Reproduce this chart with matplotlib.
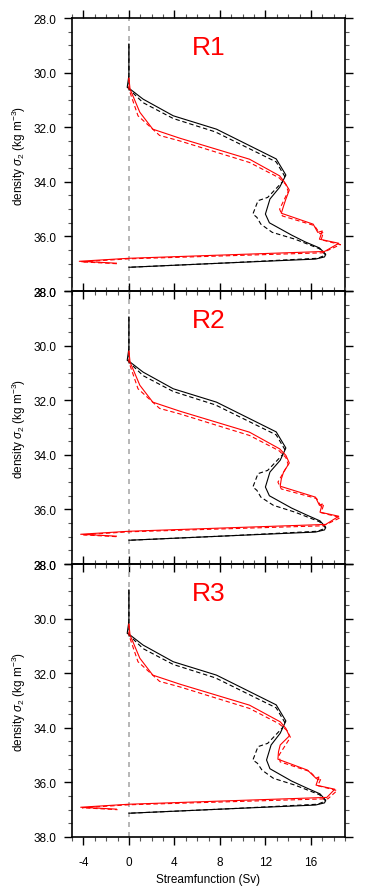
import matplotlib
matplotlib.use("Agg")
import matplotlib.pyplot as plt
from matplotlib.ticker import MultipleLocator, FormatStrFormatter

plt.rcParams['font.family'] = ['Liberation Sans', 'DejaVu Sans']
plt.rcParams['mathtext.fontset'] = 'custom'
plt.rcParams['mathtext.it'] = 'Liberation Sans:italic'
plt.rcParams['mathtext.rm'] = 'Liberation Sans'
plt.rcParams['axes.unicode_minus'] = False

titles = ["R1", "R2", "R3"]

# black solid (density, streamfunction)
blk_y = [28.95, 30.1, 30.54, 30.6, 30.97, 31.58, 32.07, 33.16, 33.75, 34.2, 34.63,
         35.18, 35.5, 35.95, 36.2, 36.42, 36.65, 36.75, 36.83, 36.97, 37.13]
blk_x = {
    "R1": [0.0, 0.0, -0.15, 0.1, 1.25, 3.9, 7.7, 12.95, 13.8, 13.25, 12.4,
           12.0, 12.35, 14.3, 15.5, 16.75, 17.3, 17.2, 16.4, 8.6, 0.0],
    "R2": [0.0, 0.0, -0.15, 0.1, 1.25, 3.9, 7.7, 12.95, 13.8, 13.3, 12.4,
           12.0, 12.35, 14.3, 15.6, 16.8, 17.3, 17.2, 16.4, 8.6, 0.0],
    "R3": [0.0, 0.0, -0.15, 0.1, 1.25, 3.9, 7.7, 12.95, 13.8, 13.3, 12.5,
           12.1, 12.4, 14.3, 15.6, 16.8, 17.3, 17.2, 16.4, 8.6, 0.0],
}

# black dashed
blkd_y = [28.95, 30.1, 30.6, 31.1, 31.68, 32.17, 33.27, 33.8, 34.0, 34.57, 34.69,
          35.18, 35.3, 35.55, 35.85, 36.1, 36.45, 36.68, 36.8, 36.97, 37.13]
blkd_x = {
    "R1": [0.0, 0.0, 0.0, 1.25, 3.9, 7.6, 12.95, 13.7, 13.5, 12.2, 11.35,
           10.9, 11.25, 11.6, 12.6, 14.6, 16.75, 17.3, 16.6, 8.6, 0.0],
    "R2": [0.0, 0.0, 0.0, 1.25, 3.9, 7.6, 12.95, 13.7, 13.5, 12.2, 11.35,
           10.9, 11.25, 11.6, 12.7, 14.6, 16.75, 17.3, 16.6, 8.6, 0.0],
    "R3": [0.0, 0.0, 0.0, 1.25, 3.9, 7.6, 12.95, 13.7, 13.5, 12.2, 11.35,
           10.9, 11.3, 11.7, 12.7, 14.6, 16.75, 17.3, 16.6, 8.6, 0.0],
}

# red solid
red_y = [30.2, 30.6, 31.45, 32.07, 32.4, 33.17, 33.78, 34.02, 34.3, 34.63, 34.88,
         35.15, 35.55, 35.85, 35.8, 36.1, 36.25, 36.55, 36.8, 36.91, 36.98]
red_x = {
    "R1": [0.0, 0.1, 0.96, 2.1, 4.47, 10.6, 13.25, 13.7, 14.1, 13.8, 13.6,
           13.4, 16.2, 16.6, 17.0, 16.75, 18.45, 17.2, 0.0, -4.36, -1.1],
    "R2": [0.0, 0.1, 0.96, 2.1, 4.47, 10.6, 13.25, 13.8, 14.1, 13.6, 13.4,
           13.3, 16.4, 16.75, 17.0, 16.8, 18.45, 17.3, 0.0, -4.24, -1.1],
    "R3": [0.0, 0.1, 0.96, 2.1, 4.47, 10.6, 13.3, 13.8, 14.1, 13.3, 13.15,
           13.1, 15.7, 16.45, 16.7, 16.45, 18.1, 17.4, 0.0, -4.24, -1.1],
}

# red dashed
redd_y = [30.2, 30.6, 31.58, 32.3, 32.5, 33.29, 33.85, 34.1, 34.35, 35.0, 35.25,
          35.6, 35.9, 35.85, 36.12, 36.3, 36.6, 36.82, 36.93, 37.0]
redd_x = {
    "R1": [0.0, 0.0, 0.8, 2.7, 4.47, 10.6, 13.2, 13.8, 14.0, 13.25, 13.5,
           16.3, 16.8, 17.1, 16.9, 18.6, 17.0, 0.0, -4.2, -1.0],
    "R2": [0.0, 0.0, 0.8, 2.7, 4.47, 10.6, 13.2, 13.8, 14.0, 13.1, 13.4,
           16.5, 16.9, 17.1, 16.9, 18.6, 17.1, 0.0, -4.1, -1.0],
    "R3": [0.0, 0.0, 0.8, 2.7, 4.47, 10.6, 13.2, 13.9, 14.2, 13.2, 13.3,
           15.9, 16.6, 16.9, 16.6, 18.3, 17.5, 0.0, -4.1, -1.0],
}

fig = plt.figure(figsize=(3.65, 8.95), dpi=100)

bottoms = [0.6737, 0.3687, 0.0637]
for i, name in enumerate(titles):
    ax = fig.add_axes([0.1973, bottoms[i], 0.748, 0.305])
    ax.patch.set_alpha(0)

    ax.axvline(0, color="#aaaaaa", lw=1.2, ls=(0, (3, 3)), zorder=1)
    ax.plot(blk_x[name], blk_y, color="black", lw=0.8)
    ax.plot(blkd_x[name], blkd_y, color="black", lw=0.8, ls=(0, (4, 2.5)))
    ax.plot(red_x[name], red_y, color="red", lw=0.8)
    ax.plot(redd_x[name], redd_y, color="red", lw=0.8, ls=(0, (4, 2.5)))

    ax.set_xlim(-5, 19)
    ax.set_ylim(38, 28)
    ax.xaxis.set_major_locator(MultipleLocator(4))
    ax.xaxis.set_minor_locator(MultipleLocator(1))
    ax.yaxis.set_major_locator(MultipleLocator(2))
    ax.yaxis.set_minor_locator(MultipleLocator(0.5))
    ax.yaxis.set_major_formatter(FormatStrFormatter("%.1f"))
    ax.tick_params(which="both", direction="out", top=True, right=True,
                   labelsize=8.5, width=1.0)
    ax.tick_params(which="major", length=6, pad=5)
    ax.tick_params(which="minor", length=3, width=0.8, color="#555555")
    ax.tick_params(axis="x", pad=8)
    for s in ax.spines.values():
        s.set_linewidth(1.2)

    ax.set_ylabel(r"density $\sigma_2$ (kg m$^{-3}$)", fontsize=8.5, labelpad=4)
    ax.text(0.5, 0.894, name, transform=ax.transAxes, color="red",
            fontsize=19, ha="center", va="center")
    if i < 2:
        ax.tick_params(axis="x", labelbottom=False)
    else:
        ax.set_xlabel("Streamfunction (Sv)", fontsize=8.5, labelpad=3)

plt.savefig("out.png", dpi=100)
